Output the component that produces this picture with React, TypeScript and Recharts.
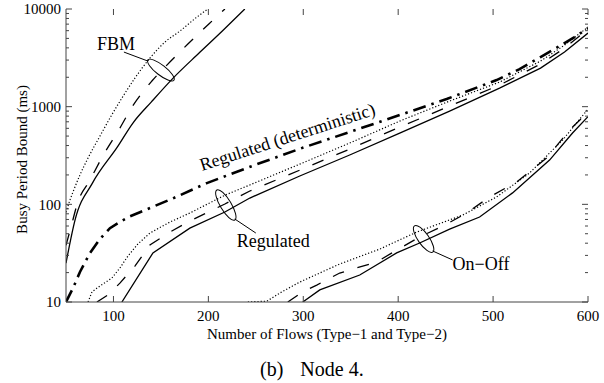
import React from "react";
import { LineChart, Line, XAxis, YAxis, ReferenceDot } from "recharts";

// axis ticks
const xTicks = [100, 200, 300, 400, 500, 600];
const yTicks = [
  10, 20, 30, 40, 50, 60, 70, 80, 90,
  100, 200, 300, 400, 500, 600, 700, 800, 900,
  1000, 2000, 3000, 4000, 5000, 6000, 7000, 8000, 9000, 10000,
];
const yLabels = [10, 100, 1000, 10000];

// FBM
const fbmSolidX = [50, 59.5, 78, 104, 120.5, 140, 162.6, 191, 215, 238.4];
const fbmSolidY = [25, 69, 166, 385, 680, 1120, 1950, 3600, 6000, 10000];
const fbmDashedX = [50, 56.3, 62.1, 74.7, 88.4, 106.8, 119.5, 140.5, 160.5, 178.4, 203.7, 217.4];
const fbmDashedY = [38, 64, 103, 173, 308, 604, 990, 1830, 2930, 4380, 7510, 10000];
const fbmDottedX = [50, 54.2, 57.4, 64.7, 73.2, 85.8, 96.3, 108.9, 122.6, 138.4, 154.2, 170, 187.9, 199.5];
const fbmDottedY = [83, 111, 134, 200, 298, 500, 764, 1225, 1960, 3140, 4580, 5940, 8260, 10000];

// Regulated (deterministic)
const detX = [50, 57.4, 64.7, 75.3, 85.8, 96.3, 106.8, 117, 127.9, 162.6, 198.4, 250, 300, 348.9, 401.6, 451.1, 503.7, 527.9, 550, 570, 585.8, 600];
const detY = [10, 13.9, 20.3, 31.8, 44.2, 57, 66, 75, 83, 115, 165, 255, 381, 550, 820, 1197, 1872, 2425, 3220, 4170, 5150, 6370];

// Regulated
const regSolidX = [108.9, 141.6, 180.5, 217.4, 243.7, 296.3, 348.9, 401.6, 454.2, 506.8, 550, 575.3, 600];
const regSolidY = [10, 31.8, 57.1, 83.4, 116, 195, 320, 537, 902, 1550, 2483, 3620, 5665];
const regDashedX = [82.6, 94.2, 106.8, 122.6, 138.4, 159.5, 180.5, 217.4, 243.7, 296.3, 348.9, 401.6, 454.2, 506.8, 550, 575.3, 600];
const regDashedY = [10, 11.8, 15.6, 23.3, 38.3, 52, 67.5, 100.7, 137, 224, 368, 618, 1014, 1663, 2729, 3980, 6220];
const regDottedX = [73.2, 77.4, 85.8, 98.4, 106.8, 115.3, 125.8, 138.4, 159.5, 180.5, 217.4, 243.7, 296.3, 348.9, 401.6, 454.2, 506.8, 550, 575.3, 600];
const regDottedY = [10, 12.7, 14.6, 17.6, 22.3, 29.6, 39.3, 50.8, 65.9, 81.5, 124, 158, 258, 424, 712, 1141, 1786, 2930, 4270, 6530];

// On-Off
const onoffSolidX = [299.5, 317.4, 359.5, 398.4, 422.6, 454.2, 485.8, 520.5, 559.5, 583.7, 600];
const onoffSolidY = [10, 13.3, 18.9, 31.8, 40.2, 55.8, 74.1, 131, 284, 537, 790];
const onoffDashedX = [283.7, 299.5, 314.2, 338.4, 377.4, 398.4, 422.6, 451.1, 472.1, 496.3, 524.7, 556.3, 580.5, 600];
const onoffDashedY = [10, 12.7, 14.9, 19.8, 25.7, 34, 46.2, 62.8, 81.5, 119, 169, 298, 576, 881];
const onoffDottedX = [241.6, 261.6, 277.4, 296.3, 338.4, 380.5, 419.5, 467.9, 503.7, 538.4, 573.2, 600];
const onoffDottedY = [10, 10.2, 12.7, 16, 24.5, 34.8, 52, 77.6, 119, 209, 455, 944];

const zip = (xs: number[], ys: number[]) => xs.map((x, i) => ({ x, y: ys[i] }));

const FONT = "'Liberation Serif', 'Times New Roman', Times, serif";
const AXIS = "#444";

const SOLID = { stroke: "#000", strokeWidth: 1.3 };
const DASHED = { stroke: "#000", strokeWidth: 1.3, strokeDasharray: "12 14" };
const DOTTED = { stroke: "#000", strokeWidth: 1.2, strokeDasharray: "1.2 2" };
const DASHDOT = { stroke: "#000", strokeWidth: 2.6, strokeDasharray: "13 6 2.5 6" };

const series = [
  { key: "fbmS", data: zip(fbmSolidX, fbmSolidY), style: SOLID, curve: "monotone" },
  { key: "fbmD", data: zip(fbmDashedX, fbmDashedY), style: DASHED, curve: "monotone" },
  { key: "fbmT", data: zip(fbmDottedX, fbmDottedY), style: DOTTED, curve: "monotone" },
  { key: "det", data: zip(detX, detY), style: DASHDOT, curve: "linear" },
  { key: "regS", data: zip(regSolidX, regSolidY), style: SOLID, curve: "linear" },
  { key: "regD", data: zip(regDashedX, regDashedY), style: DASHED, curve: "linear" },
  { key: "regT", data: zip(regDottedX, regDottedY), style: DOTTED, curve: "linear" },
  { key: "ooS", data: zip(onoffSolidX, onoffSolidY), style: SOLID, curve: "linear" },
  { key: "ooD", data: zip(onoffDashedX, onoffDashedY), style: DASHED, curve: "linear" },
  { key: "ooT", data: zip(onoffDottedX, onoffDottedY), style: DOTTED, curve: "linear" },
];

const tickLen = (v: number) => (yLabels.includes(v) ? 6 : 3);

function LeftLabel({ x, y, payload }: any) {
  if (!yLabels.includes(payload.value)) return <g />;
  return (
    <text x={x - 5} y={y} dy="0.35em" textAnchor="end" fontSize={15} fontFamily={FONT} fill="#000">
      {payload.value}
    </text>
  );
}

function BottomLabel({ x, y, payload }: any) {
  return (
    <text x={x} y={y + 19} textAnchor="middle" fontSize={15} fontFamily={FONT} fill="#000">
      {payload.value}
    </text>
  );
}

function Note(props: any) {
  const { cx, cy, rx, ry, angle, leader, text, tx, ty } = props;
  return (
    <g>
      <ellipse cx={cx} cy={cy} rx={rx} ry={ry} transform={`rotate(${angle} ${cx} ${cy})`} fill="none" stroke="#000" strokeWidth={1} />
      <line x1={cx + leader[0]} y1={cy + leader[1]} x2={cx + leader[2]} y2={cy + leader[3]} stroke="#000" strokeWidth={1} />
      <text x={cx + tx} y={cy + ty} fontSize={18} fontFamily={FONT} fill="#000">
        {text}
      </text>
    </g>
  );
}

const xTitle = (props: any) => {
  const vb = props.viewBox;
  return (
    <text x={vb.x + vb.width / 2} y={vb.y + 37} textAnchor="middle" fontSize={15} fontFamily={FONT} fill="#000">
      Number of Flows (Type−1 and Type−2)
    </text>
  );
};

const yTitle = (props: any) => {
  const vb = props.viewBox;
  const cx = vb.x + 16;
  const cy = vb.y + vb.height / 2 + 4;
  return (
    <text x={cx} y={cy} dy="0.35em" textAnchor="middle" transform={`rotate(-90 ${cx} ${cy})`} fontSize={15} fontFamily={FONT} fill="#000">
      Busy Period Bound (ms)
    </text>
  );
};

export default function App() {
  return (
    <div style={{ position: "absolute", left: 0, top: 0, width: 604, height: 383, background: "#fff" }}>
      <LineChart width={604} height={383} margin={{ top: 9, right: 16, bottom: 51, left: 6 }}>
        <XAxis
          xAxisId="b"
          type="number"
          dataKey="x"
          domain={[50, 600]}
          ticks={xTicks}
          interval={0}
          allowDataOverflow
          tick={<BottomLabel />}
          tickLine={false}
          tickSize={0}
          tickMargin={0}
          height={30}
          axisLine={{ stroke: AXIS }}
          label={xTitle}
        />
        <XAxis
          xAxisId="t"
          orientation="top"
          type="number"
          domain={[50, 600]}
          tick={false}
          tickLine={false}
          height={0}
          axisLine={{ stroke: AXIS }}
        />
        <YAxis
          yAxisId="l"
          type="number"
          scale="log"
          domain={[10, 10000]}
          ticks={yTicks}
          interval={0}
          allowDataOverflow
          tick={<LeftLabel />}
          tickLine={false}
          tickSize={0}
          tickMargin={0}
          width={60}
          axisLine={{ stroke: AXIS }}
          label={yTitle}
        />
        <YAxis
          yAxisId="r"
          orientation="right"
          type="number"
          scale="log"
          domain={[10, 10000]}
          tick={false}
          tickLine={false}
          width={0}
          axisLine={{ stroke: AXIS }}
        />
        {series.map((s) => (
          <Line
            key={s.key}
            xAxisId="b"
            yAxisId="l"
            data={s.data}
            dataKey="y"
            type={s.curve as any}
            dot={false}
            activeDot={false}
            isAnimationActive={false}
            {...s.style}
          />
        ))}
        {/* inward tick marks on all four sides */}
        {yTicks.map((v) => (
          <ReferenceDot
            key={`yl${v}`}
            xAxisId="b"
            yAxisId="l"
            x={50}
            y={v}
            ifOverflow="visible"
            shape={(p: any) => <line x1={p.cx} x2={p.cx + tickLen(v)} y1={p.cy} y2={p.cy} stroke={AXIS} strokeWidth={1} />}
          />
        ))}
        {yTicks.map((v) => (
          <ReferenceDot
            key={`yr${v}`}
            xAxisId="b"
            yAxisId="l"
            x={600}
            y={v}
            ifOverflow="visible"
            shape={(p: any) => <line x1={p.cx} x2={p.cx - tickLen(v)} y1={p.cy} y2={p.cy} stroke={AXIS} strokeWidth={1} />}
          />
        ))}
        {xTicks.map((v) => (
          <ReferenceDot
            key={`xb${v}`}
            xAxisId="b"
            yAxisId="l"
            x={v}
            y={10}
            ifOverflow="visible"
            shape={(p: any) => <line x1={p.cx} x2={p.cx} y1={p.cy} y2={p.cy - 6} stroke={AXIS} strokeWidth={1} />}
          />
        ))}
        {xTicks.map((v) => (
          <ReferenceDot
            key={`xt${v}`}
            xAxisId="b"
            yAxisId="l"
            x={v}
            y={10000}
            ifOverflow="visible"
            shape={(p: any) => <line x1={p.cx} x2={p.cx} y1={p.cy} y2={p.cy + 6} stroke={AXIS} strokeWidth={1} />}
          />
        ))}
        <ReferenceDot
          xAxisId="b"
          yAxisId="l"
          x={150}
          y={2370}
          ifOverflow="visible"
          shape={(p: any) => (
            <Note cx={p.cx} cy={p.cy} rx={16.5} ry={5} angle={38} leader={[-13, -9, -37, -18]} text="FBM" tx={-64} ty={-20} />
          )}
        />
        <ReferenceDot
          xAxisId="b"
          yAxisId="l"
          x={218.4}
          y={98.4}
          ifOverflow="visible"
          shape={(p: any) => (
            <Note cx={p.cx} cy={p.cy} rx={17.5} ry={5.5} angle={59} leader={[9, 14, 30, 28]} text="Regulated" tx={11} ty={42} />
          )}
        />
        <ReferenceDot
          xAxisId="b"
          yAxisId="l"
          x={426.8}
          y={44.2}
          ifOverflow="visible"
          shape={(p: any) => (
            <Note cx={p.cx} cy={p.cy} rx={16} ry={5.5} angle={55} leader={[9, 12, 29, 21]} text="On−Off" tx={29} ty={31} />
          )}
        />
        <ReferenceDot
          xAxisId="b"
          yAxisId="l"
          x={193.2}
          y={219}
          ifOverflow="visible"
          shape={(p: any) => (
            <text x={p.cx} y={p.cy} transform={`rotate(-18 ${p.cx} ${p.cy})`} fontSize={18} fontFamily={FONT} fill="#000">
              Regulated (deterministic)
            </text>
          )}
        />
      </LineChart>
      <div
        style={{
          position: "absolute",
          left: 260,
          top: 358,
          fontFamily: FONT,
          fontSize: 20,
          color: "#000",
          whiteSpace: "nowrap",
        }}
      >
        (b)<span style={{ marginLeft: 17 }}>Node 4.</span>
      </div>
    </div>
  );
}
